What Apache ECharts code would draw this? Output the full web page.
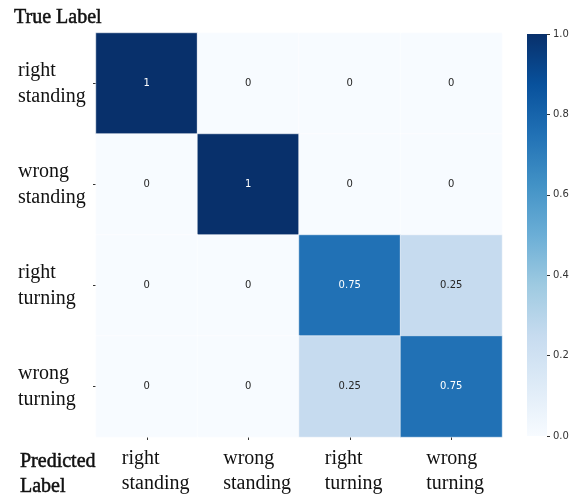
<!DOCTYPE html>
<html>
<head>
<meta charset="utf-8">
<script src="https://cdn.jsdelivr.net/npm/echarts@6/dist/echarts.min.js"></script>
<style>
    html, body { margin: 0; padding: 0; background: #ffffff; }
    #main { width: 582px; height: 495px; }
</style>
</head>
<body>
<div id="main"></div>
<script>
// categories (same for predicted and true)
var predictedLabels = ['right\nstanding', 'wrong\nstanding', 'right\nturning', 'wrong\nturning'];
var trueLabels = ['right\nstanding', 'wrong\nstanding', 'right\nturning', 'wrong\nturning'];

// one row per true label, one value per predicted label
var rightStanding = [1, 0, 0, 0];
var wrongStanding = [0, 1, 0, 0];
var rightTurning = [0, 0, 0.75, 0.25];
var wrongTurning = [0, 0, 0.25, 0.75];

var colorbarMin = 0;
var colorbarMax = 1;
var colorbarStep = 0.2;
var bluesColors = ['#f7fbff', '#deebf7', '#c6dbef', '#9ecae1', '#6baed6', '#4292c6', '#2171b5', '#08519c', '#08306b'];

// --------------------------------------------------------------------------------------------------------------------
var rows = [rightStanding, wrongStanding, rightTurning, wrongTurning];
var cells = [];
for (var i = 0; i < rows.length; i++) {
    for (var j = 0; j < rows[i].length; j++) {
        var v = rows[i][j];
        cells.push({
            value: [j, i, v],
            label: { color: v > 0.5 ? '#ffffff' : '#262626' }
        });
    }
}

function labelFormatter(value) {
    var parts = value.split('\n');
    return '{a|' + parts[0] + '}\n{a|' + parts[1] + '}';
}

var gradientStops = bluesColors.map(function (c, k) {
    return { offset: k / (bluesColors.length - 1), color: c };
});

var serif = '"Liberation Serif", "DejaVu Serif", serif';
var sans = '"DejaVu Sans", sans-serif';
var heading = { fontFamily: serif, fontSize: 20, fontWeight: 'normal', color: '#111', textBorderColor: '#111', textBorderWidth: 0.5 };

var chart = echarts.init(document.getElementById('main'));
chart.setOption({
    animation: false,
    title: [{
        text: 'True Label',
        left: 9, top: 3,
        textStyle: heading
    }, {
        text: 'Predicted\nLabel',
        left: 15, top: 444,
        textStyle: Object.assign({ lineHeight: 25 }, heading)
    }],
    grid: [{
        left: 96, top: 33, width: 406, height: 404
    }, {
        left: 527, top: 34, width: 20, height: 402
    }],
    xAxis: [{
        type: 'category',
        data: predictedLabels,
        gridIndex: 0,
        axisLine: { show: false },
        axisTick: { show: true, length: 3, alignWithLabel: true, lineStyle: { color: '#333' } },
        axisLabel: {
            margin: 9,
            formatter: labelFormatter,
            rich: {
                a: { fontFamily: serif, fontSize: 20, color: '#111', lineHeight: 25, width: 68, align: 'left', padding: [0, 0, 0, 18] }
            }
        }
    }, {
        type: 'category',
        data: [''],
        gridIndex: 1,
        show: false
    }],
    yAxis: [{
        type: 'category',
        data: trueLabels,
        gridIndex: 0,
        inverse: true,
        axisLine: { show: false },
        axisTick: { show: true, length: 3, alignWithLabel: true, lineStyle: { color: '#333' } },
        axisLabel: {
            margin: 6,
            formatter: labelFormatter,
            rich: {
                a: { fontFamily: serif, fontSize: 20, color: '#111', lineHeight: 26, width: 72, align: 'left' }
            }
        }
    }, {
        type: 'value',
        gridIndex: 1,
        position: 'right',
        min: colorbarMin, max: colorbarMax, interval: colorbarStep,
        axisLine: { show: false },
        splitLine: { show: false },
        axisTick: { show: true, length: 3, lineStyle: { color: '#333' } },
        axisLabel: {
            margin: 6,
            fontFamily: sans, fontSize: 10, color: '#333',
            formatter: function (v) { return v.toFixed(1); }
        }
    }],
    visualMap: {
        type: 'continuous',
        show: false,
        min: colorbarMin, max: colorbarMax,
        seriesIndex: 0,
        inRange: { color: bluesColors }
    },
    series: [{
        type: 'heatmap',
        xAxisIndex: 0, yAxisIndex: 0,
        data: cells,
        itemStyle: { borderColor: 'rgba(255,255,255,0.5)', borderWidth: 1 },
        label: {
            show: true,
            fontFamily: sans, fontSize: 10,
            formatter: function (p) { return String(p.value[2]); }
        }
    }, {
        // colour bar
        type: 'bar',
        xAxisIndex: 1, yAxisIndex: 1,
        data: [colorbarMax],
        barWidth: '100%',
        silent: true,
        itemStyle: { color: new echarts.graphic.LinearGradient(0, 1, 0, 0, gradientStops) }
    }]
});
</script>
</body>
</html>
